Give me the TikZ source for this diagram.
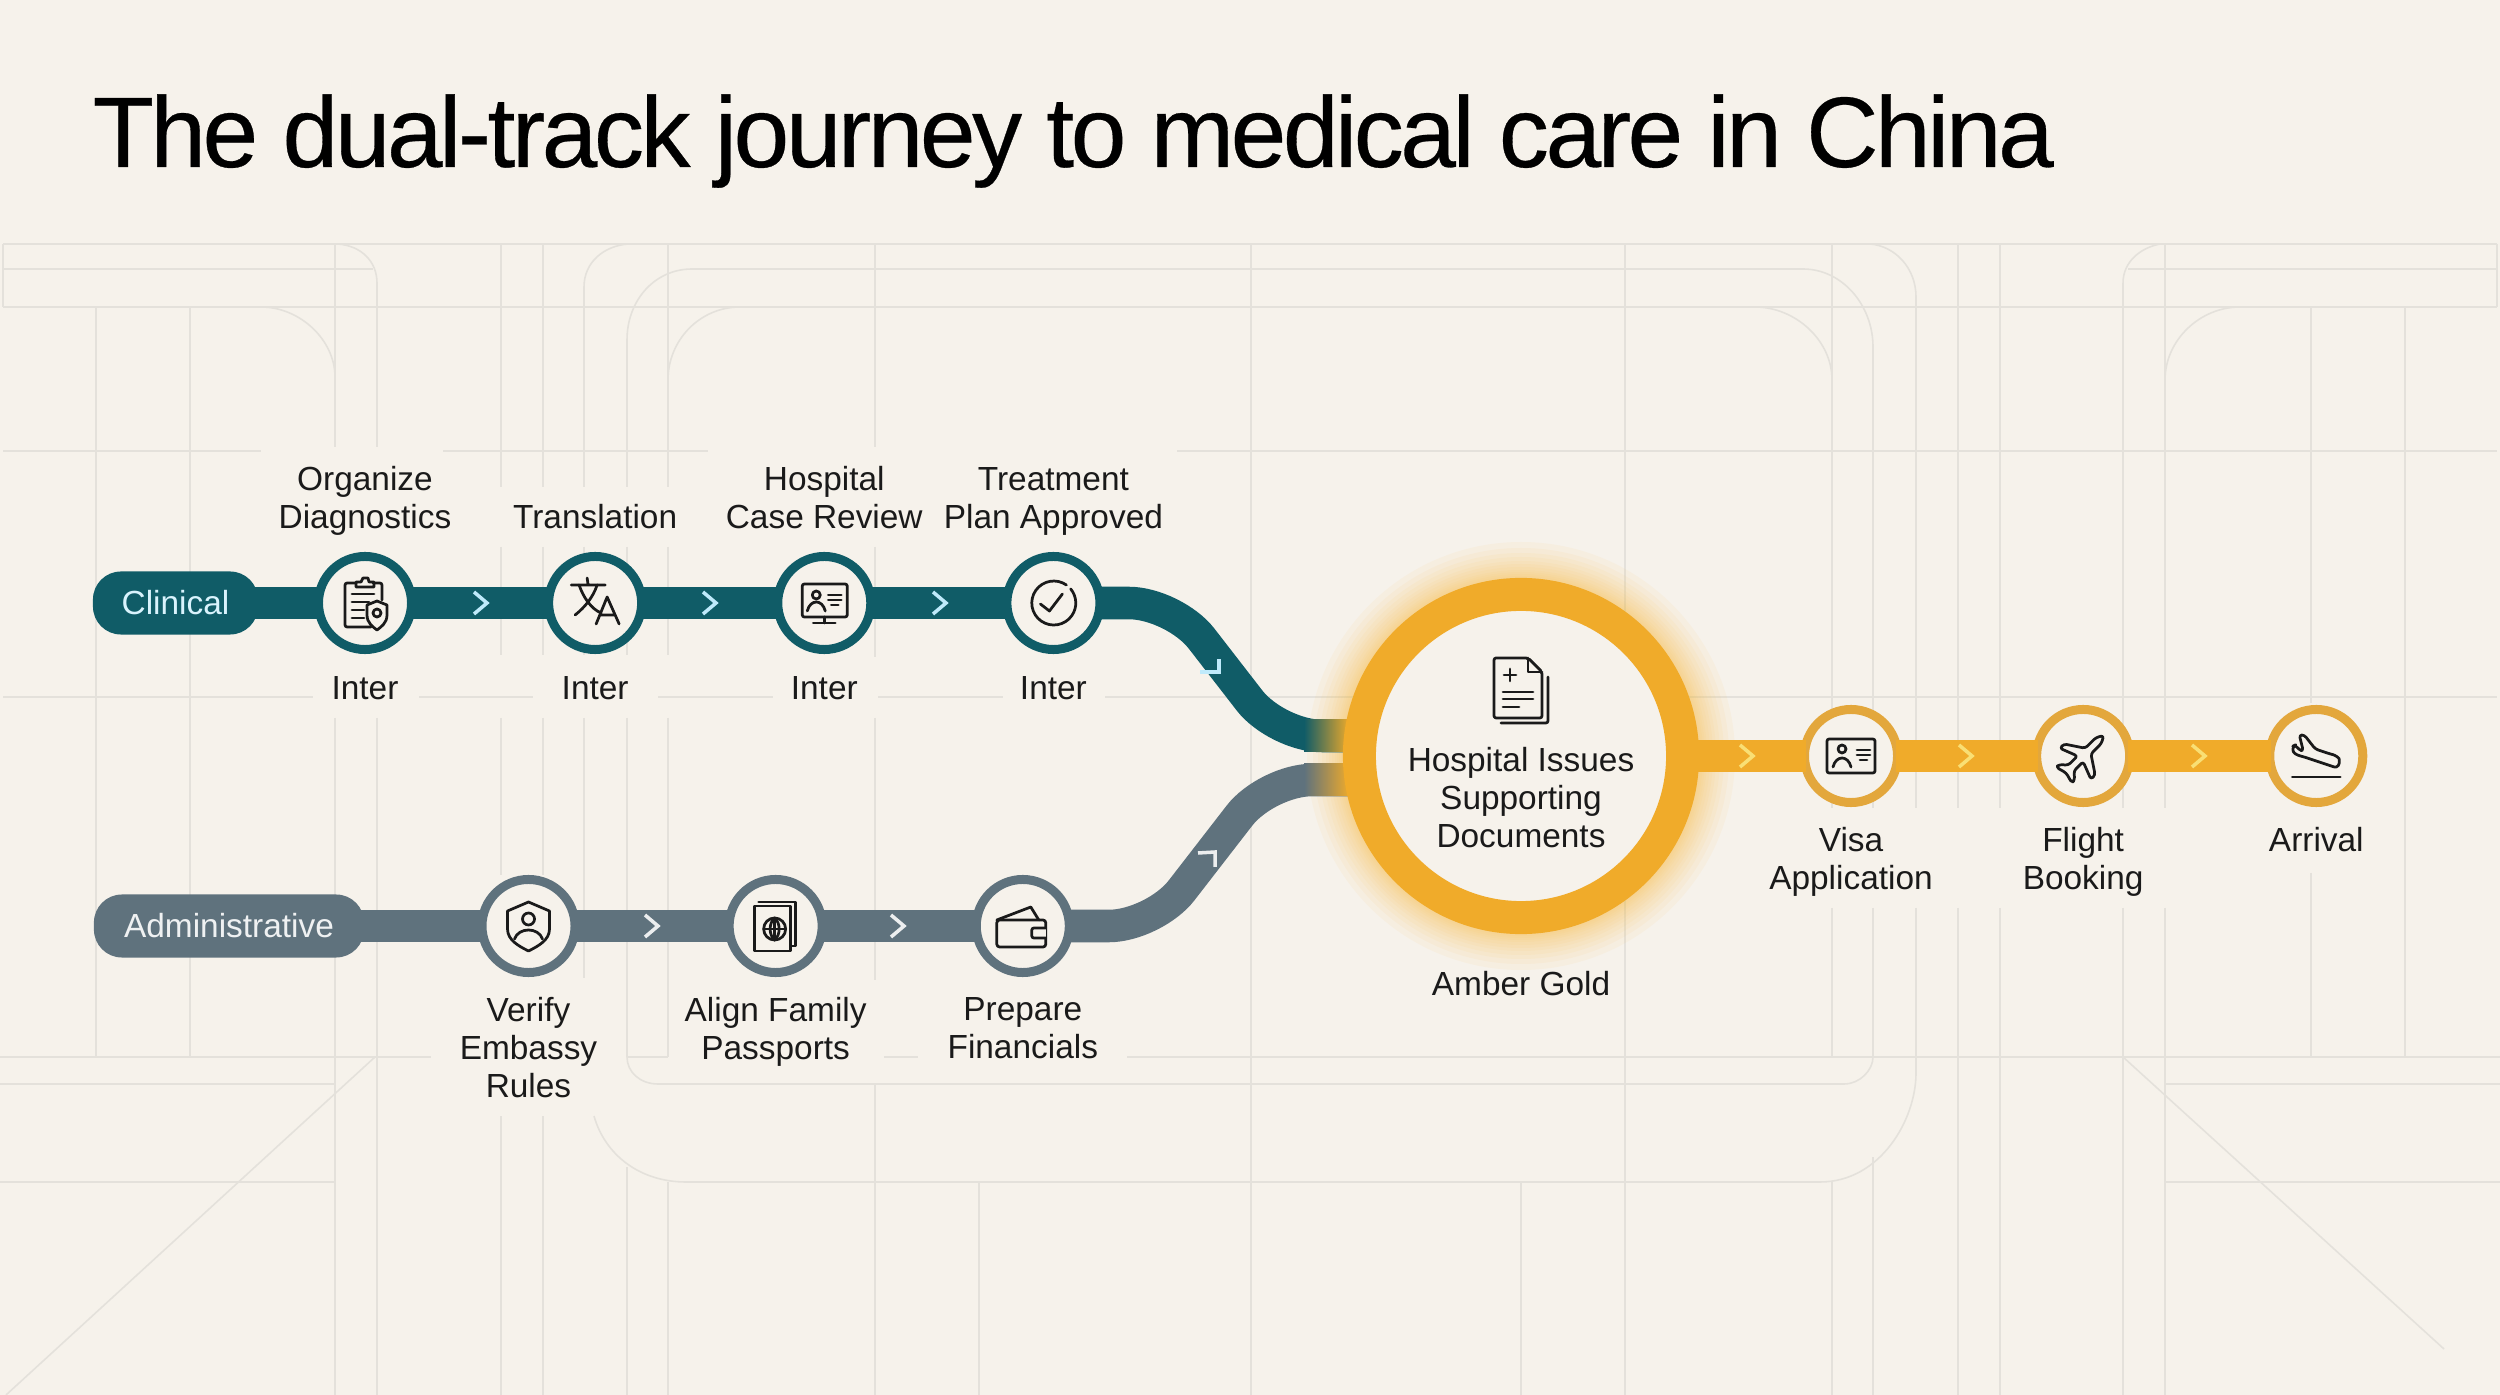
\documentclass[tikz,border=0pt]{standalone}
\usepackage{fontspec}
\setmainfont{Liberation Sans}
\newfontfamily\titlefont[LetterSpace=-3.55,FakeBold=.3]{Liberation Sans}
\usetikzlibrary{positioning}
\definecolor{paper}{HTML}{F6F2EB}
\definecolor{gridln}{HTML}{E4E1DB}
\definecolor{clinteal}{HTML}{105C67}
\definecolor{admslate}{HTML}{5F727D}
\definecolor{hubgold}{HTML}{F0AB2A}
\definecolor{goldring}{HTML}{E3A73C}
\definecolor{glowgold}{HTML}{F7C255}
\definecolor{inkblack}{HTML}{1A1A1A}
\tikzset{
  gridv/.style={draw=gridln,line width=.45pt},
  gridh/.style={draw=gridln,line width=.8pt},
  stn/.style={circle,fill=paper,line width=.09cm,minimum size=.93cm,inner sep=0pt},
  clinstn/.style={stn,draw=clinteal},
  admstn/.style={stn,draw=admslate},
  goldstn/.style={stn,draw=goldring},
  pill/.style={rectangle,rounded corners=.28cm,minimum height=.63cm,inner sep=0pt,font=\fontsize{9.5}{10.8}\selectfont},
  lbl/.style={align=center,inner sep=0pt,text=inkblack,font=\fontsize{9.5}{10.8}\selectfont},
  toplbl/.style={lbl,text depth=2pt},
  trk/.style={line width=.325cm,shorten <=-.06cm,shorten >=-.06cm},
  chev/.style={line width=1pt},
  icn/.style={draw=inkblack,line width=.78pt,line join=round,line cap=round},
}
\begin{document}
\begin{tikzpicture}[x=.01cm,y=-.01cm]
  \useasboundingbox (0,0) rectangle (2500,1395);
  \fill[paper] (0,0) rectangle (2500,1395);
  \foreach \y/\xa/\xb in {244/3/2497,269/3/373,269/692/1803,269/2128/2497,307/3/2497,
      451/3/261,451/443/708,451/1177/2497,697/3/313,697/419/533,697/658/773,697/878/1003,697/1105/2497,
      1057/0/431,1057/628/668,1057/884/918,1057/1127/2500,1084/0/335,1084/658/1844,1084/2165/2500,
      1182/0/335,1182/686/1820,1182/2165/2500}
    \draw[gridh] (\xa,\y) -- (\xb,\y);
  \foreach \x/\ya/\yb in {3/244/307,2497/244/307,96/307/1057,190/307/1057,
      335/244/447,335/718/1395,377/283/447,377/718/1395,
      501/244/487,501/547/655,501/718/875,501/1116/1395,543/244/487,543/547/655,543/718/875,543/1116/1395,
      584/287/487,584/547/655,584/718/978,627/340/487,627/547/655,627/718/1057,627/1167/1395,
      668/244/487,668/547/655,668/718/1057,668/1182/1395,
      875/244/447,875/547/657,875/718/980,875/1084/1395,979/1182/1395,1251/244/1395,1521/1182/1395,1625/244/1395,
      1832/244/808,1832/908/1057,1832/1182/1395,1873/347/808,1873/908/1057,1873/1157/1395,1916/297/808,1916/908/1073,
      1958/244/808,1958/908/1395,2000/244/808,2000/908/1395,2123/283/808,2123/908/1395,2165/244/808,2165/908/1395,
      2311/307/703,2311/873/1057,2405/307/1057}
    \draw[gridv] (\x,\ya) -- (\x,\yb);
  \draw[gridv] (338,244) .. controls (362,246) and (377,262) .. (377,283);
  \draw[gridv] (261,307) .. controls (300,307) and (335,340) .. (335,377);
  \draw[gridv] (628,244) .. controls (604,246) and (584,262) .. (584,287);
  \draw[gridv] (692,269) .. controls (655,269) and (627,300) .. (627,340);
  \draw[gridv] (740,307) .. controls (700,307) and (668,340) .. (668,380);
  \draw[gridv] (1803,269) .. controls (1842,269) and (1873,305) .. (1873,347);
  \draw[gridv] (1755,307) .. controls (1795,307) and (1832,340) .. (1832,380);
  \draw[gridv] (1870,244) .. controls (1895,246) and (1916,268) .. (1916,297);
  \draw[gridv] (2160,244) .. controls (2140,248) and (2123,262) .. (2123,283);
  \draw[gridv] (2240,307) .. controls (2200,307) and (2165,340) .. (2165,380);
  \draw[gridv] (627,1057) .. controls (627,1072) and (640,1084) .. (658,1084);
  \draw[gridv] (594,1116) .. controls (605,1155) and (640,1182) .. (686,1182);
  \draw[gridv] (1820,1182) .. controls (1880,1182) and (1916,1120) .. (1916,1073);
  \draw[gridv] (1844,1084) .. controls (1860,1084) and (1873,1070) .. (1873,1057);
  \draw[gridv] (375,1057) -- (6,1395);
  \draw[gridv] (2123,1057) -- (2444,1349);

  \node[anchor=base west,inner sep=0pt,text=black,font=\titlefont\fontsize{28.5}{32}\selectfont] (title) at (92,167) {The dual-track journey to medical care in China};

  \foreach \r in {180,182,184,186,189,192,195,199,203,208,214}
    \fill[glowgold,opacity=.07] (1521,756) circle[radius=\r];

  \coordinate (tc1) at (1174,603);
  \coordinate (tc2) at (1277,736);
  \coordinate (tc3) at (1346,736);
  \coordinate (ta1) at (1154,926);
  \coordinate (ta2) at (1267,780);
  \coordinate (ta3) at (1346,780);

  \node[pill,fill=clinteal,text=cyan!15!white,minimum width=1.65cm] (clin) at (175.5,603) {Clinical};
  \node[clinstn] (c1) at (365,603) {};
  \node[clinstn,right=1.28cm of c1] (c2) {};
  \node[clinstn,right=1.27cm of c2] (c3) {};
  \node[clinstn,right=1.27cm of c3] (c4) {};

  \node[pill,fill=admslate,text=white!90!admslate,minimum width=2.7cm] (adm) at (229,926) {Administrative};
  \node[admstn] (a1) at (528.5,926) {};
  \node[admstn,right=1.45cm of a1] (a2) {};
  \node[admstn,right=1.45cm of a2] (a3) {};

  \draw[trk,draw=clinteal] (clin) -- (c1);
  \draw[trk,draw=clinteal] (c1) -- (c2);
  \draw[trk,draw=clinteal] (c2) -- (c3);
  \draw[trk,draw=clinteal] (c3) -- (c4);
  \draw[trk,draw=clinteal,rounded corners=.45cm] (c4) -- (tc1) -- (tc2) -- (tc3);
  \draw[trk,draw=admslate] (adm) -- (a1);
  \draw[trk,draw=admslate] (a1) -- (a2);
  \draw[trk,draw=admslate] (a2) -- (a3);
  \draw[trk,draw=admslate,rounded corners=.45cm] (a3) -- (ta1) -- (ta2) -- (ta3);
  \shade[left color=clinteal,right color=hubgold] (1304,720) rectangle (1350,752);
  \shade[left color=admslate,right color=hubgold] (1304,764) rectangle (1350,796);

  \node[circle,draw=hubgold,fill=paper,line width=.33cm,minimum size=3.23cm,inner sep=0pt] (hub) at (1521,756) {};
  \node[goldstn] (g1) at (1851,756) {};
  \node[goldstn,right=1.3cm of g1] (g2) {};
  \node[goldstn,right=1.31cm of g2] (g3) {};
  \draw[trk,draw=hubgold] (hub) -- (g1);
  \draw[trk,draw=hubgold] (g1) -- (g2);
  \draw[trk,draw=hubgold] (g2) -- (g3);

  \foreach \x in {480,709,939}
    \draw[chev,draw=cyan!25!white] (\x-6,592) -- (\x+7,603) -- (\x-6,614);
  \foreach \x in {651,897}
    \draw[chev,draw=white!88!admslate] (\x-6,915) -- (\x+7,926) -- (\x-6,937);
  \foreach \x in {1746,1965,2198}
    \draw[chev,draw=yellow!45!hubgold!60!white] (\x-6,745) -- (\x+7,756) -- (\x-6,767);
  \draw[chev,draw=cyan!25!white] (1200,672) -- (1219,672) -- (1219,659);
  \draw[chev,draw=white!88!admslate] (1198,853) -- (1215,852) -- (1215,867);

  \node[toplbl,above=.155cm of c1] (l1) {Organize\\Diagnostics};
  \node[toplbl,above=.155cm of c2] (l2) {Translation};
  \node[toplbl,above=.155cm of c3] (l3) {Hospital\\Case Review};
  \node[toplbl,above=.155cm of c4] (l4) {Treatment\\Plan Approved};
  \node[lbl,below=.215cm of c1] (i1) {Inter};
  \node[lbl,below=.215cm of c2] (i2) {Inter};
  \node[lbl,below=.215cm of c3] (i3) {Inter};
  \node[lbl,below=.215cm of c4] (i4) {Inter};
  \node[lbl,below=.2cm of a1] (l5) {Verify\\Embassy\\Rules};
  \node[lbl,below=.2cm of a2] (l6) {Align Family\\Passports};
  \node[lbl,below=.2cm of a3] (l7) {Prepare\\Financials};
  \node[lbl,below=.36cm of hub] (amber) {Amber Gold};
  \node[lbl] (hubtxt) at (1521,798) {Hospital Issues\\Supporting\\Documents};
  \node[lbl,below=.2cm of g1] (l8) {Visa\\Application};
  \node[lbl,below=.2cm of g2] (l9) {Flight\\Booking};
  \node[lbl,below=.2cm of g3] (l10) {Arrival};

  \begin{scope}[icn,shift={(c1.center)}]
    \draw[rounded corners=.6pt] (8,-20) -- (17,-20) -- (17,-3);
    \draw[rounded corners=.6pt] (6,24) -- (-20,24) -- (-20,-20) -- (-9,-20);
    \draw (-9,-16) -- (-9,-21) -- (-4,-21) -- (-2,-25) -- (3,-25) -- (4,-21) -- (9,-21) -- (9,-16) -- cycle;
    \draw (-13,-9) -- (9,-9) (-13,-1) -- (4,-1) (-13,7) -- (-1,7) (-13,15) -- (-1,15);
    \draw (12,-2) -- (22,2) -- (22,12) .. controls (22,20) and (16,24) .. (12,27) .. controls (8,24) and (2,20) .. (2,12) -- (2,2) -- cycle;
    \draw (12,10) circle[radius=4];
  \end{scope}
  \begin{scope}[icn,shift={(c2.center)}]
    \draw (-24,-18) -- (10,-18) (-8,-25) -- (-7,-18);
    \draw (-16,-18) .. controls (-12,-6) and (-4,6) .. (6,10);
    \draw (2,-18) .. controls (-2,-6) and (-10,4) .. (-20,12);
    \draw (1,21) -- (12,-6) -- (24,21) (5,12) -- (20,12);
  \end{scope}
  \begin{scope}[icn,shift={(c3.center)}]
    \draw[rounded corners=.6pt] (-22,-19) rectangle (23,14);
    \draw (0,14) -- (0,20) (-11,20) -- (11,20);
    \draw (-8,-8) circle[radius=4];
    \draw (-17,8) .. controls (-14,-4) and (-2,-4) .. (1,8);
    \draw (4,-8) -- (17,-8) (4,-3) -- (17,-3) (7,2) -- (14,2);
  \end{scope}
  \begin{scope}[icn,shift={(c4.center)}]
    \draw (13,-18) arc[start angle=-55,end angle=-400,radius=22];
    \draw (-13,1) -- (-4,8) -- (9,-9);
  \end{scope}
  \begin{scope}[icn,shift={(a1.center)}]
    \draw (0,-24) -- (21,-15) -- (21,3) .. controls (21,14) and (10,20) .. (0,25) .. controls (-10,20) and (-21,14) .. (-21,3) -- (-21,-15) -- cycle;
    \draw (0,-7) circle[radius=6];
    \draw (-14,13) .. controls (-10,1) and (10,1) .. (14,13);
  \end{scope}
  \begin{scope}[icn,shift={(a2.center)}]
    \draw (-21,-20) rectangle (15,25);
    \draw (-17,-24) -- (20,-24) -- (20,20) -- (15,20);
    \draw (-1,3) circle[radius=11];
    \draw (-12,3) -- (10,3) (-1,-8) -- (-1,14);
    \draw (-1,-8) .. controls (-7,-3) and (-7,9) .. (-1,14) .. controls (5,9) and (5,-3) .. (-1,-8);
  \end{scope}
  \begin{scope}[icn,shift={(a3.center)}]
    \draw[rounded corners=.8pt] (-26,-6) rectangle (23,21);
    \draw (-26,-6) -- (8,-19) -- (16,-6);
    \draw[rounded corners=.6pt,fill=paper] (23,2) -- (9,2) -- (9,12) -- (23,12);
  \end{scope}
  \begin{scope}[icn,shift={(hub.center)},yshift=.66cm]
    \draw[rounded corners=.6pt] (-27,28) -- (-27,-32) -- (7,-32) -- (21,-18) -- (21,28) -- cycle;
    \draw (7,-32) -- (7,-18) -- (21,-18);
    \draw[rounded corners=.6pt] (27,-13) -- (27,33) -- (-20,33);
    \draw (-17,-15) -- (-5,-15) (-11,-21) -- (-11,-9);
    \draw (-18,2) -- (12,2) (-18,9) -- (12,9) (-18,17) -- (-2,17);
  \end{scope}
  \begin{scope}[icn,shift={(g1.center)}]
    \draw[rounded corners=.6pt] (-24,-17) rectangle (24,17);
    \draw (-9,-7) circle[radius=4];
    \draw (-18,11) .. controls (-15,-1) and (-3,-1) .. (0,11);
    \draw (6,-6) -- (19,-6) (6,-1) -- (19,-1) (9,4) -- (16,4);
  \end{scope}
  \begin{scope}[icn,shift={(g2.center)},rotate=45]
    \draw[rounded corners=.8pt] (29,0) -- (22,-4) -- (7,-4) -- (-5,-22) -- (-11,-22) -- (-4,-4) -- (-17,-4) -- (-23,-11) -- (-27,-11) -- (-24,0) -- (-27,11) -- (-23,11) -- (-17,4) -- (-4,4) -- (-11,22) -- (-5,22) -- (7,4) -- (22,4) -- cycle;
  \end{scope}
  \begin{scope}[icn,shift={(g3.center)}]
    \draw[rounded corners=.8pt] (23,3) .. controls (24,9) and (21,12) .. (15,10) -- (-12,1) .. controls (-20,-1) and (-24,-3) .. (-23,-10) -- (-21,-11) -- (-17,-6) -- (-13,-5) -- (-17,-21) -- (-12,-21) -- (-1,-7) -- (14,-2) .. controls (18,-1) and (22,1) .. (23,3);
    \draw (-24,21) -- (24,21);
  \end{scope}
\end{tikzpicture}
\end{document}
